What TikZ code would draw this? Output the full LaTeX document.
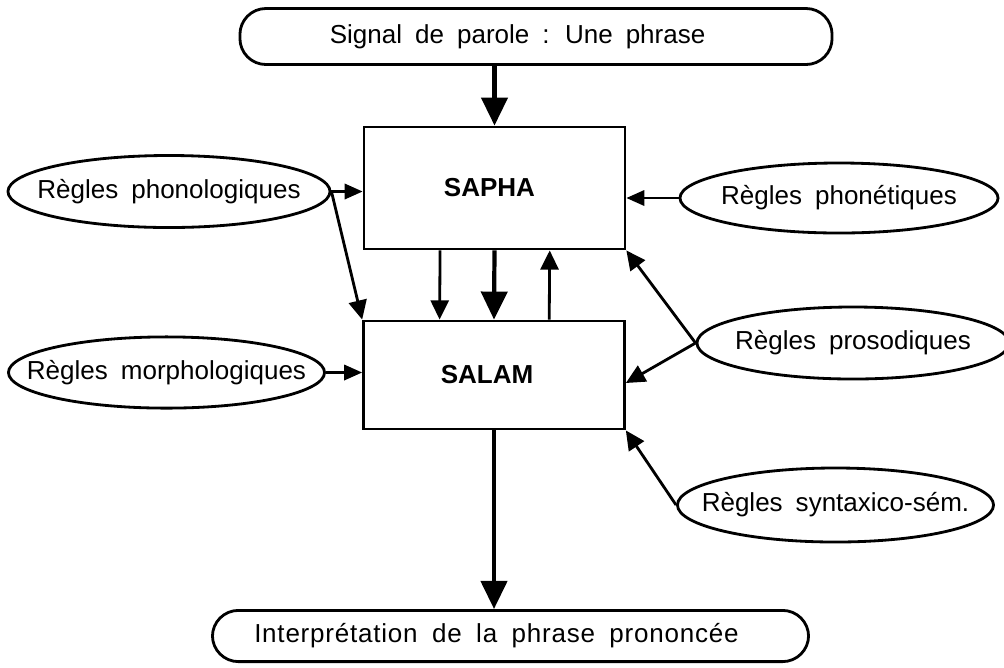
\documentclass[tikz,border=0pt]{standalone}
\usepackage{fontspec}
\setmainfont[WordSpace=1.8]{Liberation Sans}
\usetikzlibrary{positioning,arrows.meta,shapes.geometric,calc}

% text of fixed-size ellipses, kept out of the shape's size
\newcommand{\rulelabel}[1]{\makebox[0pt]{#1}}

\begin{document}
\begin{tikzpicture}[
  x=0.025cm, y=-0.025cm,
  font=\fontsize{18.5}{21}\selectfont,
  pill/.style={draw, line width=2pt, rounded corners=0.65cm, minimum height=1.4cm, inner sep=0pt},
  module/.style={draw, line width=2pt, minimum width=6.52cm, font=\fontsize{18.5}{21}\selectfont\bfseries},
  rules/.style={draw, ellipse, line width=2pt, inner sep=0pt, minimum height=1.8cm},
  feed/.style={line width=2pt, -{Triangle[length=4.5mm,width=3.8mm]}},
  link/.style={line width=2pt, -{Triangle[length=4.8mm,width=4.5mm]}},
  mainflow/.style={line width=3pt, -{Triangle[length=7mm,width=6.5mm]}},
]
\useasboundingbox (0,0) rectangle (1004,667);

% Input and output of the system
\node[pill, minimum width=14.8cm] (signal) at (536,36.5) {Signal de parole : Une phrase\hspace*{0.92cm}};
\node[pill, minimum width=14.9cm, minimum height=1.28cm, font=\fontsize{18.5}{21}\selectfont\addfontfeature{LetterSpace=3}] (result) at (510.5,636) {Interprétation de la phrase prononcée\hspace*{0.7cm}};

% The two analysis modules
\node[module, minimum height=3.05cm] (sapha) at (494.5,188) {SAPHA\hspace*{0.25cm}};
\node[module, minimum height=2.7cm] (salam) at (494,375) {SALAM\hspace*{0.35cm}};

% Knowledge sources, left side
\node[rules, minimum width=8.05cm] (phono) at (169,191.5) {\rulelabel{Règles phonologiques}};
\node[rules, minimum width=7.9cm, minimum height=1.78cm] (morpho) at (166.5,372.5) {\rulelabel{Règles morphologiques}};

% Knowledge sources, right side
\node[rules, minimum width=7.95cm, minimum height=1.75cm] (phonet) at (839,198) {\rulelabel{Règles phonétiques}};
\node[rules, minimum width=7.8cm] (proso) at (853,343) {\rulelabel{Règles prosodiques}};
\node[rules, minimum width=7.9cm, minimum height=1.85cm] (synt) at (835.5,505) {\rulelabel{Règles syntaxico-sém.}};

% Main flow
\draw[mainflow] (sapha.north |- signal.south) -- (sapha.north);
\draw[mainflow] (sapha.south) -- (salam.north);
\draw[mainflow] (salam.south) -- (salam.south |- result.north);

% Exchanges between the modules
\draw[link] ([xshift=-1.36cm]sapha.south) -- ([xshift=-1.36cm]salam.north);
\draw[link] ([xshift=1.38cm]salam.north) -- ([xshift=1.38cm]sapha.south);

% Rules feeding the modules
\draw[feed] (phono.east) -- (sapha.west |- phono.east);
\draw[link] (phono.east) -- (salam.north west);
\draw[feed] (morpho.east) -- (salam.west |- morpho.east);
\draw[feed] (phonet.west) -- (sapha.east |- phonet.west);
\draw[link] (proso.west) -- (sapha.south east);
\draw[link] (proso.west) -- ([yshift=-0.2cm]salam.east);
\draw[link] (synt.west) -- (salam.south east);

\end{tikzpicture}
\end{document}
